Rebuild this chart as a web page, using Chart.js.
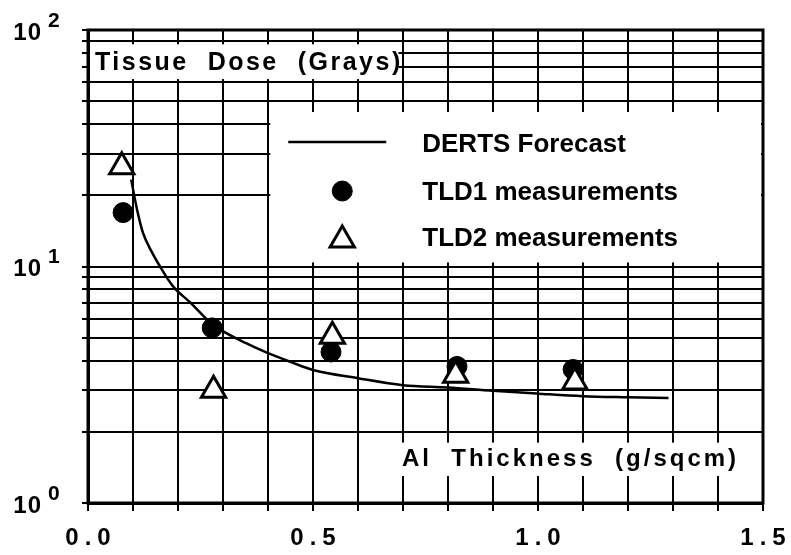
<!DOCTYPE html>
<html>
<head>
<meta charset="utf-8">
<title>Tissue Dose vs Al Thickness</title>
<script src="https://cdn.jsdelivr.net/npm/chart.js@4.4.0/dist/chart.umd.min.js"></script>
<style>
  body { margin: 0; background: #fff; }
  canvas { display: block; }
</style>
</head>
<body>
<canvas id="doseChart" width="791" height="555"></canvas>
<script>
// DERTS forecast curve
const forecastX = [0.096, 0.109, 0.122, 0.142, 0.16, 0.189, 0.227, 0.271, 0.293, 0.35, 0.4, 0.45, 0.5, 0.6, 0.7, 0.8, 0.9, 1.0, 1.1, 1.2, 1.29];
const forecastY = [23.3, 17.4, 13.9, 11.5, 10.0, 8.24, 7.05, 5.81, 5.42, 4.75, 4.3, 3.95, 3.65, 3.37, 3.15, 3.08, 2.98, 2.9, 2.83, 2.8, 2.78];

// TLD measurements
const tld1X = [0.078, 0.276, 0.54, 0.82, 1.078];
const tld1Y = [16.9, 5.5, 4.35, 3.78, 3.67];
const tld2X = [0.075, 0.279, 0.543, 0.817, 1.082];
const tld2Y = [26.4, 3.0, 5.07, 3.47, 3.25];

// axis labels
const xTickLabels = ['0.0', '0.5', '1.0', '1.5'];
const yDecades = [1, 10, 100];
const yExponents = ['0', '1', '2'];

const seriesNames = ['DERTS Forecast', 'TLD1 measurements', 'TLD2 measurements'];
const yTitle = 'Tissue  Dose  (Grays)';
const xTitle = 'Al  Thickness  (g/sqcm)';

const toPoints = (xs, ys) => xs.map((x, i) => ({ x: x, y: ys[i] }));
const FONT = '"Liberation Sans", Arial, Helvetica, sans-serif';

// white boxes, legend, tick labels, frame
const paperPlugin = {
  id: 'paper',
  beforeDatasetsDraw(chart) {
    const { ctx, chartArea: a, scales: { x, y } } = chart;
    ctx.save();
    ctx.fillStyle = '#fff';
    // title box
    const tTop = y.getPixelForValue(87), tBot = y.getPixelForValue(62);
    ctx.fillRect(a.left + 2, tTop, x.getPixelForValue(0.69) - a.left - 2, tBot - tTop);
    // legend box
    const lTop = y.getPixelForValue(45), lBot = y.getPixelForValue(10.4);
    const lLeft = x.getPixelForValue(0.405);
    ctx.fillRect(lLeft, lTop, a.right - 2 - lLeft, lBot - lTop);
    // x title box
    const xTop = y.getPixelForValue(1.8), xBot = y.getPixelForValue(1.3);
    const xLeft = x.getPixelForValue(0.68);
    ctx.fillRect(xLeft, xTop, a.right - 2 - xLeft, xBot - xTop);

    // frame
    ctx.strokeStyle = '#000';
    ctx.lineWidth = 3;
    ctx.strokeRect(a.left, a.top, a.right - a.left, a.bottom - a.top);

    ctx.fillStyle = '#000';
    ctx.textBaseline = 'middle';
    ctx.textAlign = 'left';
    ctx.font = 'bold 25px ' + FONT;
    ctx.letterSpacing = '2.5px';
    ctx.fillText(yTitle, a.left + 7, (tTop + tBot) / 2 + 1);
    ctx.font = 'bold 24px ' + FONT;
    ctx.letterSpacing = '3px';
    ctx.fillText(xTitle, xLeft + 8, (xTop + xBot) / 2);

    // legend
    ctx.letterSpacing = '0px';
    ctx.font = 'bold 26px ' + FONT;
    const ds = chart.data.datasets;
    const rows = [lTop + 31, lTop + 79, lTop + 125];
    const symX = lLeft + 72;
    ds.forEach((d, i) => {
      const ry = rows[i];
      if (d.showLine) {
        ctx.beginPath();
        ctx.lineWidth = d.borderWidth;
        ctx.strokeStyle = d.borderColor;
        ctx.moveTo(lLeft + 18, ry - 1);
        ctx.lineTo(lLeft + 116, ry - 1);
        ctx.stroke();
      } else {
        ctx.fillStyle = d.backgroundColor;
        ctx.strokeStyle = d.borderColor;
        ctx.lineWidth = d.borderWidth;
        ctx.beginPath();
        if (d.pointStyle === 'triangle') {
          const r = d.pointRadius, cy = ry + 3;
          ctx.moveTo(symX, cy - r);
          ctx.lineTo(symX + r * Math.sin(2 * Math.PI / 3), cy - r * Math.cos(2 * Math.PI / 3));
          ctx.lineTo(symX - r * Math.sin(2 * Math.PI / 3), cy - r * Math.cos(2 * Math.PI / 3));
          ctx.closePath();
        } else {
          ctx.arc(symX, ry, d.pointRadius, 0, Math.PI * 2);
        }
        ctx.fill();
        ctx.stroke();
      }
      ctx.fillStyle = '#000';
      ctx.fillText(d.label, lLeft + 152, ry + 2);
    });
    ctx.restore();
  },
  afterDraw(chart) {
    const { ctx, chartArea: a, scales: { x, y } } = chart;
    ctx.save();
    ctx.fillStyle = '#000';
    ctx.textBaseline = 'middle';
    // x tick labels
    ctx.font = 'bold 24px ' + FONT;
    ctx.letterSpacing = '6px';
    ctx.textAlign = 'center';
    xTickLabels.forEach(lbl => {
      ctx.fillText(lbl, x.getPixelForValue(parseFloat(lbl)) + 3, a.bottom + 35);
    });
    // y tick labels: 10 with exponent
    ctx.letterSpacing = '1px';
    yDecades.forEach((v, i) => {
      const py = y.getPixelForValue(v);
      ctx.font = 'bold 24px ' + FONT;
      ctx.textAlign = 'right';
      ctx.fillText('10', a.left - 46, py + 3);
      ctx.font = 'bold 21px ' + FONT;
      ctx.textAlign = 'left';
      ctx.fillText(yExponents[i], a.left - 40, py - 9);
    });
    ctx.restore();
  }
};

const ctx = document.getElementById('doseChart').getContext('2d');
const doseChart = new Chart(ctx, {
  type: 'scatter',
  data: {
    datasets: [
      {
        label: seriesNames[0],
        data: toPoints(forecastX, forecastY),
        showLine: true,
        borderColor: '#000',
        borderWidth: 2.5,
        pointRadius: 0,
        cubicInterpolationMode: 'monotone',
        order: 3
      },
      {
        label: seriesNames[1],
        data: toPoints(tld1X, tld1Y),
        showLine: false,
        pointStyle: 'circle',
        pointRadius: 10,
        backgroundColor: '#000',
        borderColor: '#000',
        borderWidth: 1,
        order: 2
      },
      {
        label: seriesNames[2],
        data: toPoints(tld2X, tld2Y),
        showLine: false,
        pointStyle: 'triangle',
        pointRadius: 14,
        backgroundColor: '#fff',
        borderColor: '#000',
        borderWidth: 3,
        order: 1
      }
    ]
  },
  options: {
    responsive: false,
    animation: false,
    layout: {
      padding: { left: 82, right: 28, top: 30, bottom: 44 }
    },
    plugins: {
      legend: { display: false },
      tooltip: { enabled: false }
    },
    scales: {
      x: {
        type: 'linear',
        min: 0,
        max: 1.5,
        ticks: { stepSize: 0.1, display: false },
        grid: { color: '#000', lineWidth: 2, tickLength: 8, drawTicks: true },
        border: { display: true, color: '#000', width: 3 }
      },
      y: {
        type: 'logarithmic',
        min: 1,
        max: 100,
        ticks: { display: false },
        afterBuildTicks: scale => {
          // keep the usual 1..9 log grid only
          scale.ticks = scale.ticks.filter(t => {
            const s = t.value / Math.pow(10, Math.floor(Math.log10(t.value) + 1e-9));
            return Math.abs(s - Math.round(s)) < 1e-6;
          });
        },
        grid: { color: '#000', lineWidth: 2, tickLength: 6, drawTicks: true },
        border: { display: true, color: '#000', width: 3 }
      }
    }
  },
  plugins: [paperPlugin]
});
</script>
</body>
</html>
